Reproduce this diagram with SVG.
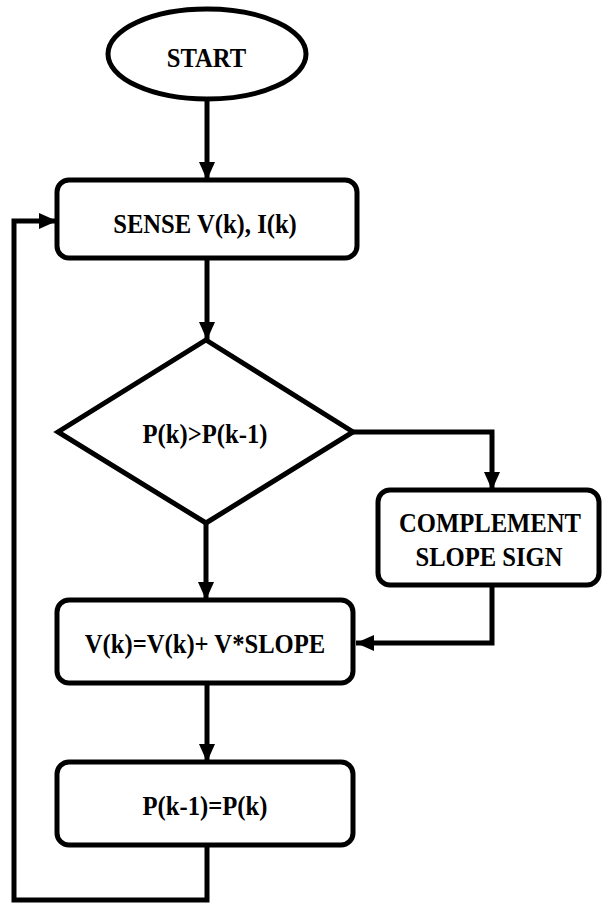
<svg xmlns="http://www.w3.org/2000/svg" width="602" height="905" viewBox="0 0 602 905">
  <style>
    .shape { fill: #ffffff; stroke: #000000; stroke-width: 5; }
    .wire { fill: none; stroke: #000000; stroke-width: 5; stroke-linejoin: miter; }
    .label { font-family: "Liberation Serif", "Times New Roman", serif; font-weight: bold; font-size: 28px; fill: #000000; text-anchor: middle; }
  </style>
  <defs>
    <marker id="arrow" markerUnits="userSpaceOnUse" markerWidth="18" markerHeight="18" viewBox="0 0 18 18" refX="18" refY="9" orient="auto">
      <path d="M0,1 L18,9 L0,17 Z" fill="#000000"/>
    </marker>
  </defs>

  <rect width="602" height="905" fill="#ffffff"/>

  <g id="connectors">
    <path class="wire" d="M207,100 V180" marker-end="url(#arrow)"/>
    <path class="wire" d="M207,258 V340" marker-end="url(#arrow)"/>
    <path class="wire" d="M353,432 H492 V490" marker-end="url(#arrow)"/>
    <path class="wire" d="M206,523 V600" marker-end="url(#arrow)"/>
    <path class="wire" d="M492,585 V643 H356" marker-end="url(#arrow)"/>
    <path class="wire" d="M207,683 V762" marker-end="url(#arrow)"/>
    <path class="wire" d="M207,845 V900 H14 V221 H57" marker-end="url(#arrow)"/>
  </g>

  <!-- labels use a slightly condensed bold serif -->
  <g id="start">
    <ellipse class="shape" cx="207" cy="54" rx="99" ry="45"/>
    <text class="label" transform="translate(206.5,67) scale(0.88,1)">START</text>
  </g>

  <g id="sense">
    <rect class="shape" x="57" y="180" width="300" height="78" rx="12"/>
    <text class="label" transform="translate(205,233) scale(0.88,1)">SENSE V(k), I(k)</text>
  </g>

  <g id="compare">
    <polygon class="shape" points="206,340 353,432 206,523 58,432"/>
    <text class="label" transform="translate(205,443) scale(0.88,1)">P(k)&gt;P(k-1)</text>
  </g>

  <g id="complement">
    <rect class="shape" x="378" y="490" width="221" height="95" rx="12"/>
    <text class="label" transform="translate(490,532) scale(0.88,1)">COMPLEMENT</text>
    <text class="label" transform="translate(489,566) scale(0.88,1)">SLOPE SIGN</text>
  </g>

  <g id="update-voltage">
    <rect class="shape" x="57" y="600" width="296" height="83" rx="12"/>
    <text class="label" transform="translate(205,653) scale(0.88,1)">V(k)=V(k)+ V*SLOPE</text>
  </g>

  <g id="store-power">
    <rect class="shape" x="57" y="762" width="296" height="83" rx="12"/>
    <text class="label" transform="translate(205,815) scale(0.88,1)">P(k-1)=P(k)</text>
  </g>
</svg>
